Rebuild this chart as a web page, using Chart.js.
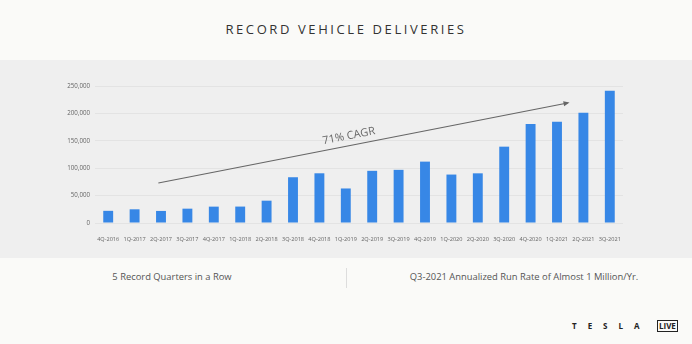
<!DOCTYPE html>
<html>
<head>
<meta charset="utf-8">
<script src="https://cdn.jsdelivr.net/npm/chart.js@4"></script>
<style>
  html, body { margin: 0; padding: 0; }
  body { width: 692px; height: 344px; background: #fafaf8; position: relative; overflow: hidden;
         font-family: "Open Sans", "DejaVu Sans", sans-serif; }
  .title { position: absolute; top: 20px; left: 0; width: 692px; text-align: center;
           font-size: 13px; letter-spacing: 2.6px; color: #333; }
  .band { position: absolute; top: 60px; left: 0; width: 692px; height: 198px; background: #efefef; }
  .note { position: absolute; top: 270px; font-size: 9.4px; color: #555; text-align: center; }
  .sep { position: absolute; left: 346px; top: 268px; width: 1px; height: 20px; background: #ddd; }
  .logo { position: absolute; top: 320px; left: 572px; font-size: 8px; font-weight: bold; color: #222;
          letter-spacing: 11px; }
  .live { position: absolute; top: 320px; left: 657px; font-size: 8px; font-weight: bold; color: #222;
          border: 1px solid #222; padding: 0 1px; line-height: 10px; }
</style>
</head>
<body>
<div class="title">RECORD VEHICLE DELIVERIES</div>
<div class="band"><canvas id="chart" width="692" height="198"></canvas></div>
<div class="note" style="left:92px;width:160px">5 Record Quarters in a Row</div>
<div class="sep"></div>
<div class="note" style="left:394px;width:260px">Q3-2021 Annualized Run Rate of Almost 1 Million/Yr.</div>
<div class="logo">TESLA</div>
<div class="live">LIVE</div>
<script>
const quarters = ['4Q-2016', '1Q-2017', '2Q-2017', '3Q-2017', '4Q-2017', '1Q-2018', '2Q-2018', '3Q-2018',
  '4Q-2018', '1Q-2019', '2Q-2019', '3Q-2019', '4Q-2019', '1Q-2020', '2Q-2020', '3Q-2020',
  '4Q-2020', '1Q-2021', '2Q-2021', '3Q-2021'];
const deliveries = [22200, 25000, 22000, 26150, 29870, 29980, 40740, 83500, 90700, 63000,
  95200, 97000, 112000, 88400, 90650, 139300, 180570, 184800, 201250, 241300];
const yTicks = [0, 50000, 100000, 150000, 200000, 250000];

// CAGR arrow, in data units (category index, deliveries)
const arrowStart = [1.9, 73000];
const arrowEnd = [17.4, 219000];
const arrowLabel = '71% CAGR';

const cagrArrow = {
  id: 'cagrArrow',
  afterDatasetsDraw(chart) {
    const { ctx, scales: { x, y } } = chart;
    const x1 = x.getPixelForValue(arrowStart[0]), y1 = y.getPixelForValue(arrowStart[1]);
    const x2 = x.getPixelForValue(arrowEnd[0]), y2 = y.getPixelForValue(arrowEnd[1]);
    const ang = Math.atan2(y2 - y1, x2 - x1);
    ctx.save();
    ctx.strokeStyle = '#666';
    ctx.fillStyle = '#666';
    ctx.lineWidth = 1.2;
    ctx.beginPath();
    ctx.moveTo(x1, y1);
    ctx.lineTo(x2, y2);
    ctx.stroke();
    // arrow head
    ctx.translate(x2, y2);
    ctx.rotate(ang);
    ctx.beginPath();
    ctx.moveTo(2, 0);
    ctx.lineTo(-4, -2.5);
    ctx.lineTo(-4, 2.5);
    ctx.closePath();
    ctx.fill();
    ctx.restore();

    // label
    const t = 0.47;
    const lx = x1 + (x2 - x1) * t, ly = y1 + (y2 - y1) * t;
    ctx.save();
    ctx.translate(lx, ly);
    ctx.rotate(ang);
    ctx.font = '11px "Open Sans", sans-serif';
    ctx.fillStyle = '#666';
    ctx.textAlign = 'center';
    ctx.textBaseline = 'bottom';
    ctx.fillText(arrowLabel, 0, -4);
    ctx.restore();
  }
};

new Chart(document.getElementById('chart'), {
  type: 'bar',
  data: {
    labels: quarters,
    datasets: [{
      data: deliveries,
      backgroundColor: '#3787e6',
      barPercentage: 0.75,
      categoryPercentage: 0.5,
    }],
  },
  options: {
    responsive: false,
    animation: false,
    layout: { padding: { left: 55, right: 69, top: 26, bottom: 0 } },
    plugins: { legend: { display: false }, tooltip: { enabled: false } },
    scales: {
      x: {
        afterFit(s) { s.height = 35; },
        grid: { display: false },
        border: { display: false },
        ticks: { color: '#666', font: { size: 5.6, family: '"Open Sans", sans-serif' }, maxRotation: 0, autoSkip: false, padding: 5 },
      },
      y: {
        min: 0, max: 250000,
        afterFit(s) { s.width = 40; },
        afterBuildTicks(s) { s.ticks = yTicks.map(v => ({ value: v })); },
        grid: { color: '#e3e3e3', drawTicks: false },
        border: { display: false },
        ticks: {
          color: '#666', padding: 5,
          font: { size: 6.2, family: '"Open Sans", sans-serif' },
          callback: v => v.toLocaleString('en-US'),
        },
      },
    },
  },
  plugins: [cagrArrow],
});
</script>
</body>
</html>
